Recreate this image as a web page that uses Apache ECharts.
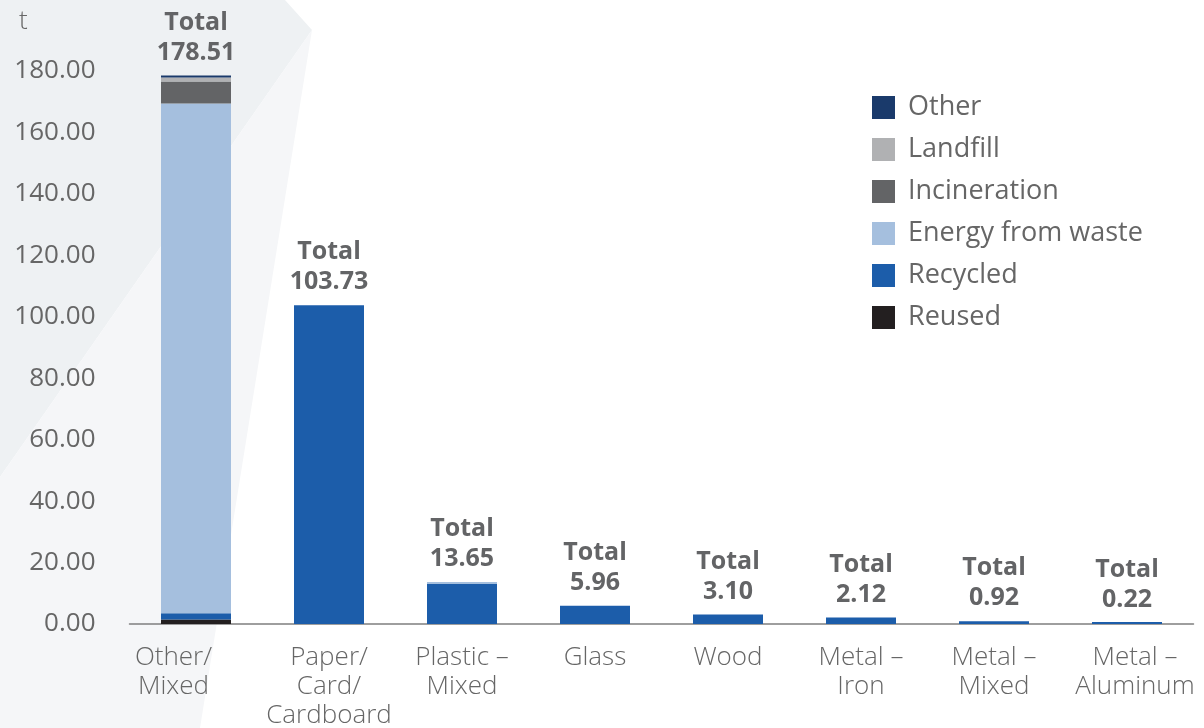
<!DOCTYPE html>
<html>
<head>
<meta charset="utf-8">
<script src="https://cdn.jsdelivr.net/npm/echarts@6/dist/echarts.min.js"></script>
<style>html,body{margin:0;padding:0;background:#fff;}#c{width:1204px;height:728px;}</style>
</head>
<body>
<div id="c"></div>
<script>
var categories = ['Other/\nMixed', 'Paper/\nCard/\nCardboard', 'Plastic –\nMixed', 'Glass', 'Wood', 'Metal –\nIron', 'Metal –\nMixed', 'Metal –\nAluminum'];
var reused      = [1.5, 0, 0, 0, 0, 0, 0, 0];
var recycled    = [2.0, 103.73, 13.05, 5.96, 3.10, 2.12, 0.92, 0.22];
var energy      = [165.9, 0, 0.6, 0, 0, 0, 0, 0];
var incineration= [7.2, 0, 0, 0, 0, 0, 0, 0];
var landfill    = [1.3, 0, 0, 0, 0, 0, 0, 0];
var other       = [0.61, 0, 0, 0, 0, 0, 0, 0];
var totals      = ['178.51', '103.73', '13.65', '5.96', '3.10', '2.12', '0.92', '0.22'];
var yTicks      = [0, 20, 40, 60, 80, 100, 120, 140, 160, 180];

var FONT = '"Open Sans", "Noto Sans", sans-serif';
var chart = echarts.init(document.getElementById('c'));

function mk(name, data, color, minH) {
  return { name: name, type: 'bar', stack: 'a', data: data, barWidth: 70, barMinHeight: minH || 0,
    itemStyle: { color: color }, emphasis: { disabled: true } };
}

var catData = categories.map(function (c, i) {
  if (i === 0) return { value: c, textStyle: { padding: [0, 45, 0, 0] } };
  if (i === categories.length - 1) return { value: c, textStyle: { padding: [0, 0, 0, 16] } };
  return c;
});

chart.setOption({
  animation: false,
  title: { text: 't', left: 14, top: 4, textStyle: { fontFamily: FONT, fontSize: 26, fontWeight: 300, color: '#666' } },
  graphic: [
    { type: 'polygon', z: -10, silent: true, shape: { points: [[0, 0], [285, 0], [312, 30], [0, 477]] }, style: { fill: '#eef1f3' } },
    { type: 'polygon', z: -10, silent: true, shape: { points: [[312, 30], [200, 728], [0, 728], [0, 477]] }, style: { fill: '#f5f6f8' } }
  ],
  legend: {
    orient: 'vertical', left: 872, top: 94, padding: 0, itemWidth: 23, itemHeight: 23, itemGap: 15,
    icon: 'rect', selectedMode: false,
    data: ['Other', 'Landfill', 'Incineration', 'Energy from waste', 'Recycled', 'Reused'],
    textStyle: { fontFamily: FONT, fontSize: 27, color: '#666', padding: [0, 0, 0, 8] }
  },
  grid: { left: 129.5, right: 10.5, top: 71, bottom: 104, containLabel: false, outerBoundsMode: 'none' },
  xAxis: {
    type: 'category', data: catData,
    axisLine: { lineStyle: { color: '#7f7f7f', width: 1.5 } },
    axisTick: { show: false },
    axisLabel: { interval: 0, margin: 19, fontFamily: FONT, fontSize: 26, fontWeight: 300, lineHeight: 29, color: '#666' }
  },
  yAxis: {
    type: 'value', min: 0, max: 180, interval: 20,
    axisLine: { show: false }, axisTick: { show: false }, splitLine: { show: false },
    axisLabel: { margin: 34, fontFamily: FONT, fontSize: 26, color: '#666',
      formatter: function (v) { return yTicks.indexOf(v) >= 0 ? v.toFixed(2) : ''; } }
  },
  series: [
    mk('Reused', reused, '#231f20'),
    mk('Recycled', recycled, '#1c5daa', 2),
    mk('Energy from waste', energy, '#a5bfde'),
    mk('Incineration', incineration, '#636466'),
    mk('Landfill', landfill, '#b0b1b3'),
    mk('Other', other, '#1a3a6b'),
    { name: 'Total', type: 'bar', stack: 'a', barWidth: 70, data: totals.map(function () { return 0; }),
      itemStyle: { color: 'transparent' }, silent: true,
      label: { show: true, position: 'top', distance: 8, fontFamily: FONT, fontSize: 25, fontWeight: 'bold',
        lineHeight: 30, color: '#636466',
        formatter: function (p) { return 'Total\n' + totals[p.dataIndex]; } } }
  ]
});
</script>
</body>
</html>
